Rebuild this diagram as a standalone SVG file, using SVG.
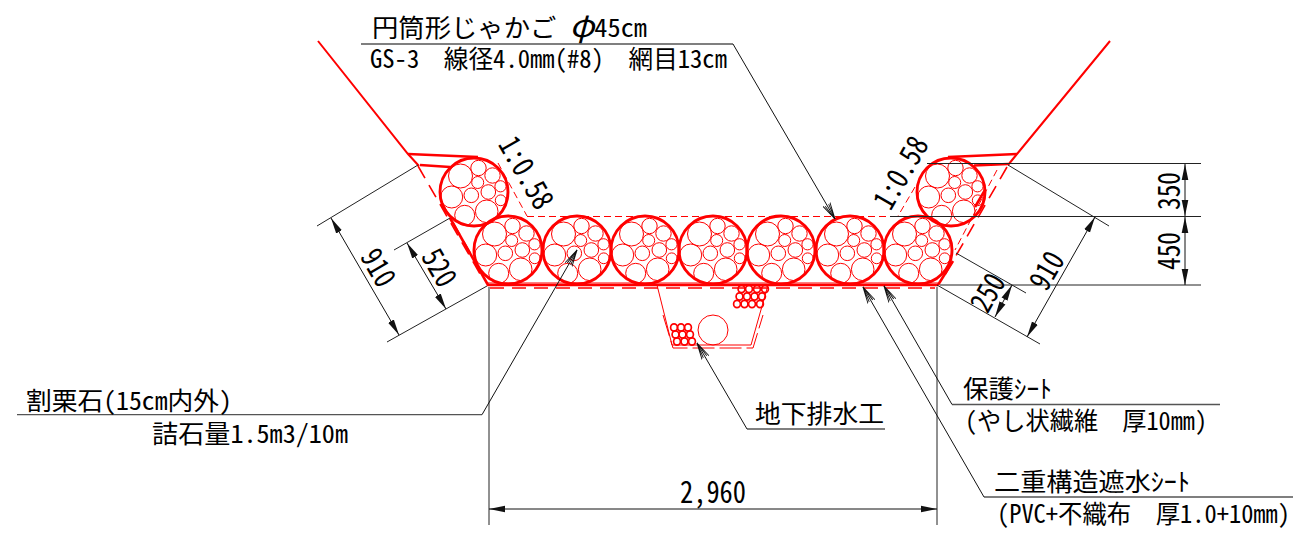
<svg xmlns="http://www.w3.org/2000/svg" width="1293" height="540" viewBox="0 0 1293 540">
<style>
text{font-family:"Noto Sans CJK JP","Liberation Sans",sans-serif;font-feature-settings:"hwid";fill:#000;white-space:pre}
.l{font-size:25px}
.d{font-size:30px}
.r{fill:none;stroke:#f00}
.o{stroke-width:2.9}
.i{stroke-width:1}
.th{stroke-width:2.6}
.m{stroke-width:1.6;stroke-dasharray:14 8}
.t{stroke-width:1;stroke-dasharray:7 4}
.b{fill:none;stroke:#222;stroke-width:1}
.u{fill:none;stroke:#555;stroke-width:1.3}
.k{fill:none;stroke:#111;stroke-width:1;marker-end:url(#open)}
.a{fill:none;stroke:#111;stroke-width:1;marker-start:url(#solid);marker-end:url(#solid)}
</style>
<defs>
<marker id="solid" markerUnits="userSpaceOnUse" markerWidth="20" markerHeight="10" refX="16" refY="5" orient="auto-start-reverse"><path d="M0,1.700 L16,5 L0,8.300 Z" fill="#111"/></marker>
<marker id="open" markerUnits="userSpaceOnUse" markerWidth="20" markerHeight="12" refX="17" refY="6" orient="auto"><path d="M0,2 L17,6 L0,10 M1,4 L17,6 L1,8" fill="none" stroke="#111" stroke-width=".9"/></marker>
<g id="gabion">
<circle class="r o" r="34"/>
<g class="r i">
<circle cx="-13.500" cy="-16" r="12"/><circle cx="4.500" cy="-24" r="7.700"/><circle cx="18.500" cy="-16.500" r="7.700"/><circle cx="3.700" cy="-9.500" r="6"/><circle cx="26.500" cy="-5.700" r="5.600"/><circle cx="14.300" cy="0" r="7.300"/><circle cx="-2.700" cy="3.300" r="7.300"/><circle cx="-22.300" cy="5" r="11"/><circle cx="26.700" cy="8.300" r="5.400"/><circle cx="12.700" cy="19.300" r="11.300"/><circle cx="-9.300" cy="23.300" r="10"/>
</g>
</g>
<g id="cell"><ellipse class="r" stroke-width="1.700" rx="3.400" ry="3.600"/></g>
</defs>

<g id="slope">
<path class="r" stroke-width="2" d="M318,41 L408,154 L419,166"/>
<path class="r" stroke-width="2" d="M1110,41 L1017,154 L1008,165"/>
<path class="r th" d="M408,154 L478,157"/>
<path class="r th" d="M420,165 L450,167"/>
<path class="r th" d="M1017,154 L948,157"/>
<path class="r th" d="M1008,164 L974,165.500"/>
<path class="r m" d="M418,166 L483,279"/>
<path class="r m" d="M442,203 L481,272"/>
<path class="r th" d="M450,218 L488,285"/>
<path class="r m" d="M1007,167 L942,280"/>
<path class="r t" d="M997,170 L955,250"/>
<path class="r th" d="M985,190 L975,207"/>
<path class="r th" d="M938,285 L953,261"/>
<path class="r t" d="M498,163 L527,216"/>
<path class="r t" d="M915,187 L898,216"/>
<path class="r t" d="M527,216.500 L898,216.500"/>
<path class="r th" d="M487,285 L938,285"/>
<path class="r i" d="M487,283 L938,283"/>
<path class="r m" d="M490,288 L935,288"/>
</g>

<g id="gabion-1"><use href="#gabion" x="474" y="192"/></g>
<g id="gabion-2"><use href="#gabion" x="951" y="192"/></g>
<g id="gabion-3"><use href="#gabion" x="508" y="250"/></g>
<g id="gabion-4"><use href="#gabion" x="577" y="250"/></g>
<g id="gabion-5"><use href="#gabion" x="645" y="250"/></g>
<g id="gabion-6"><use href="#gabion" x="713" y="250"/></g>
<g id="gabion-7"><use href="#gabion" x="781" y="250"/></g>
<g id="gabion-8"><use href="#gabion" x="850" y="250"/></g>
<g id="gabion-9"><use href="#gabion" x="918" y="250"/></g>

<g id="drain">
<path class="r i" d="M657,285 L672,345 L751,345 L768,285"/>
<path class="r i" stroke-dasharray="22 5" d="M663,315 L673,348 L753,348 L763,315"/>
<circle class="r i" cx="713" cy="330" r="15"/>
<use href="#cell" x="741.500" y="289"/><use href="#cell" x="749" y="289"/><use href="#cell" x="757" y="289"/><use href="#cell" x="765" y="289"/>
<use href="#cell" x="739.500" y="296.500"/><use href="#cell" x="747" y="296.500"/><use href="#cell" x="754.500" y="296.500"/><use href="#cell" x="762" y="296.500"/>
<use href="#cell" x="737" y="304"/><use href="#cell" x="744.500" y="304"/><use href="#cell" x="752" y="304"/><use href="#cell" x="760" y="304"/>
<use href="#cell" x="674" y="327.500"/><use href="#cell" x="681" y="327.500"/><use href="#cell" x="688" y="327.500"/>
<use href="#cell" x="675.500" y="334.500"/><use href="#cell" x="682.500" y="334.500"/><use href="#cell" x="690" y="334.500"/>
<use href="#cell" x="677" y="341.500"/><use href="#cell" x="684.500" y="341.500"/><use href="#cell" x="692" y="341.500"/>
</g>

<g id="connectors">
<path class="b" d="M418,165 L317,226 M487,286 L387,342 M450,218 L394,250"/>
<path class="a" d="M331,218 L399,335"/>
<path class="a" d="M407,243 L446,309"/>
<path class="b" d="M1008,165 L1109,226 M937,285 L1040,344 M956,253 L1026,293"/>
<path class="a" d="M1095,217 L1027,337"/>
<path class="a" d="M1012,285 L995,317"/>
<path class="b" d="M927,163.500 H1201 M890,216.500 H1201 M940,285 H1201"/>
<path class="a" d="M1185,164 V216"/>
<path class="a" d="M1185,217 V285"/>
<path class="b" d="M489,287 V525 M937,287 V525"/>
<path class="a" d="M489,509 H937"/>
<path class="u" d="M361,44 H733"/><path class="k" d="M733,44 L835,219"/>
<path class="u" d="M17,414.700 H482"/><path class="k" d="M482,414.700 L577,250"/>
<path class="u" d="M952,404.500 H1220"/><path class="k" d="M952,404.500 L884,286"/>
<path class="u" d="M984,497 H1293"/><path class="k" d="M984,497 L863,287"/>
<path class="u" d="M747,429 H885"/><path class="k" d="M747,429 L697,343"/>
</g>

<g id="labels">
<text class="l" x="372" y="37" textLength="275" lengthAdjust="spacingAndGlyphs">円筒形じゃかご <tspan font-style="italic" font-size="31">φ</tspan>45cm</text>
<text class="l" x="370" y="68" textLength="357" lengthAdjust="spacingAndGlyphs">GS-3  線径4.0mm(#8)  網目13cm</text>
<text class="l" x="26" y="410" textLength="206" lengthAdjust="spacingAndGlyphs">割栗石(15cm内外)</text>
<text class="l" x="152" y="443" textLength="196" lengthAdjust="spacingAndGlyphs">詰石量1.5m3/10m</text>
<text class="l" x="963" y="398" textLength="89" lengthAdjust="spacingAndGlyphs">保護ｼｰﾄ</text>
<text class="l" x="965" y="430" textLength="242" lengthAdjust="spacingAndGlyphs">(やし状繊維  厚10mm)</text>
<text class="l" x="994" y="491" textLength="196" lengthAdjust="spacingAndGlyphs">二重構造遮水ｼｰﾄ</text>
<text class="l" x="997" y="523" textLength="293" lengthAdjust="spacingAndGlyphs">(PVC+不織布  厚1.0+10mm)</text>
<text class="l" x="755" y="423" textLength="129" lengthAdjust="spacingAndGlyphs">地下排水工</text>
<text class="d" x="680" y="503" textLength="66" lengthAdjust="spacingAndGlyphs">2,960</text>
<text class="d" transform="translate(1180,210) rotate(-90)" textLength="38" lengthAdjust="spacingAndGlyphs">350</text>
<text class="d" transform="translate(1180,270) rotate(-90)" textLength="38" lengthAdjust="spacingAndGlyphs">450</text>
<text class="d" transform="translate(369,273) rotate(60)" text-anchor="middle" textLength="38" lengthAdjust="spacingAndGlyphs">910</text>
<text class="d" transform="translate(430,273) rotate(60)" text-anchor="middle" textLength="38" lengthAdjust="spacingAndGlyphs">520</text>
<text class="d" transform="translate(1056,276) rotate(-60)" text-anchor="middle" textLength="38" lengthAdjust="spacingAndGlyphs">910</text>
<text class="d" transform="translate(997,298) rotate(-60)" text-anchor="middle" textLength="38" lengthAdjust="spacingAndGlyphs">250</text>
<text class="d" transform="translate(517,178) rotate(60)" text-anchor="middle" textLength="78" lengthAdjust="spacingAndGlyphs">1:0.58</text>
<text class="d" transform="translate(910,178) rotate(-60)" text-anchor="middle" textLength="78" lengthAdjust="spacingAndGlyphs">1:0.58</text>
</g>
</svg>
